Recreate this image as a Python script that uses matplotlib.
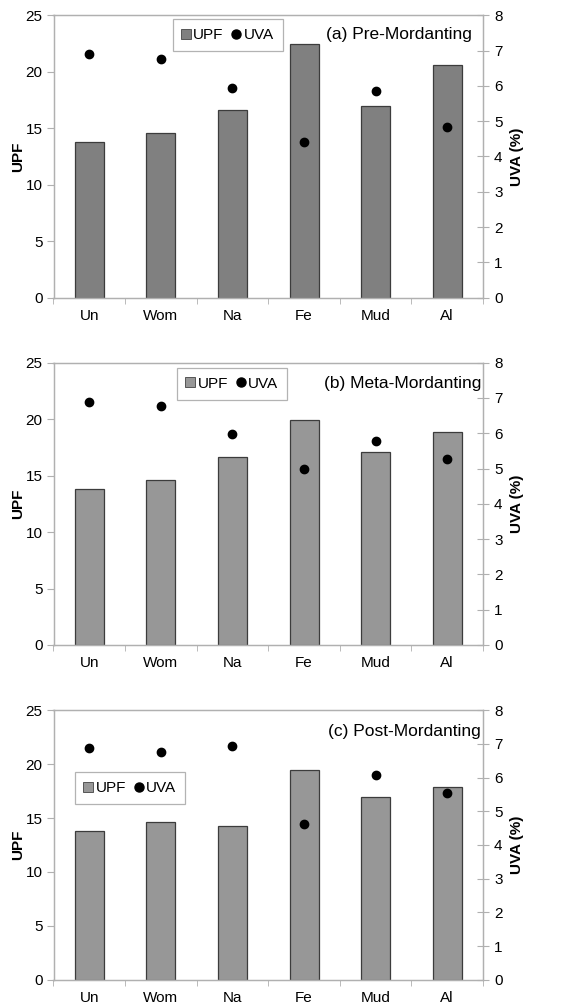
import matplotlib
matplotlib.use("Agg")
import matplotlib.pyplot as plt
from matplotlib.lines import Line2D
import numpy as np

plt.rcParams['font.family'] = ['Liberation Sans', 'DejaVu Sans']

categories = ["Un", "Wom", "Na", "Fe", "Mud", "Al"]

upf_pre = [13.8, 14.6, 16.65, 22.5, 17.0, 20.6]
uva_pre = [6.89, 6.77, 5.95, 4.42, 5.85, 4.83]

upf_meta = [13.8, 14.6, 16.65, 19.9, 17.1, 18.9]
uva_meta = [6.89, 6.77, 5.97, 5.0, 5.78, 5.27]

upf_post = [13.83, 14.6, 14.3, 19.5, 16.92, 17.85]
uva_post = [6.89, 6.77, 6.93, 4.61, 6.09, 5.55]

titles = ["(a) Pre-Mordanting", "(b) Meta-Mordanting", "(c) Post-Mordanting"]
upf_sets = [upf_pre, upf_meta, upf_post]
uva_sets = [uva_pre, uva_meta, uva_post]
bar_colors = ["#808080", "#979797", "#979797"]

W, H = 562, 1005
fig = plt.figure(figsize=(W / 100, H / 100), dpi=100)

# axes pixel boxes (left, top, right, bottom)
boxes = [(53.5, 15.3, 483, 297.7), (53.5, 362.7, 483, 645), (53.5, 710.3, 483, 979.7)]
# legend boxes in pixels (left, top)
leg_pos = [(172.7, 18.7), (177, 367.5), (75, 772)]
title_pos = [(472, 35), (481, 383.5), (481, 731.5)]

spine_c = "#b0b0b0"
x = np.arange(len(categories))

for i in range(3):
    l, t, r, b = boxes[i]
    ax = fig.add_axes([l / W, 1 - b / H, (r - l) / W, (b - t) / H])
    ax.bar(x, upf_sets[i], width=0.405, color=bar_colors[i], edgecolor="#3c3c3c",
           linewidth=0.9, zorder=2)
    ax.set_xlim(-0.5, len(categories) - 0.5)
    ax.set_ylim(0, 25)
    ax.set_yticks([0, 5, 10, 15, 20, 25])
    ax.set_xticks(x)
    ax.set_xticklabels(categories)
    ax.set_xticks(np.arange(-0.5, len(categories) + 0.5, 1), minor=True)
    ax.tick_params(axis='x', which='major', length=0, pad=8, labelsize=11)
    ax.tick_params(axis='x', which='minor', length=4, color=spine_c, direction='out')
    ax.tick_params(axis='y', length=5, color=spine_c, direction='out', labelsize=11, pad=3)
    for s in ax.spines.values():
        s.set_color(spine_c)
        s.set_linewidth(0.9)
    ax.set_ylabel("UPF", fontweight='bold', fontsize=11, labelpad=0)

    ax2 = ax.twinx()
    ax2.scatter(x, uva_sets[i], s=36, color="black", zorder=3)
    ax2.set_ylim(0, 8)
    ax2.set_yticks(range(0, 9))
    ax2.tick_params(axis='y', length=8, color=spine_c, direction='inout', labelsize=11, pad=4)
    for s in ax2.spines.values():
        s.set_color(spine_c)
        s.set_linewidth(0.9)
    ax2.set_ylabel("UVA (%)", fontweight='bold', fontsize=11, labelpad=5)

    tx, ty = title_pos[i]
    ax2.text(tx / W, 1 - ty / H, titles[i], transform=fig.transFigure, ha='right',
             va='center', fontsize=12.5)

    handles = [
        Line2D([], [], marker='s', linestyle='none', markersize=6.5,
               markerfacecolor=bar_colors[i], markeredgecolor="#555555", markeredgewidth=0.7),
        Line2D([], [], marker='o', linestyle='none', markersize=6.5, color='black'),
    ]
    lx, ly = leg_pos[i]
    leg = fig.legend(handles, ["UPF", "UVA"], loc='upper left',
                     bbox_to_anchor=(lx / W, 1 - ly / H), ncol=2, fontsize=11,
                     frameon=True, fancybox=False, handlelength=0.55, handletextpad=0.2,
                     columnspacing=0.55, borderpad=0.6, borderaxespad=0)
    leg.get_frame().set_edgecolor("#a0a0a0")
    leg.get_frame().set_linewidth(0.9)

fig.savefig("out.png", dpi=100, facecolor="white")
